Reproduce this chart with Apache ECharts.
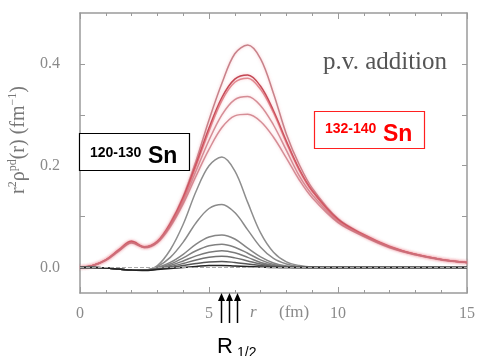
<!DOCTYPE html>
<html>
<head>
<meta charset="utf-8">
<script src="https://cdn.jsdelivr.net/npm/echarts@6/dist/echarts.min.js"></script>
<style>
  html, body { margin: 0; padding: 0; background: #fff; }
  #chart { width: 478px; height: 356px; }
</style>
</head>
<body>
<div id="chart"></div>
<script>
// radial grid (fm)
const radius = [0, 0.5, 1, 1.5, 2, 2.5, 3, 3.5, 4, 4.5, 5, 5.5, 6, 6.5, 7, 7.5, 8, 8.5, 9, 10, 11, 12, 13, 14, 15];

// r^2 rho_pd(r) for 132-140Sn
const heavy1 = [0, 0.004, 0.015, 0.035, 0.052, 0.041, 0.052, 0.088, 0.140, 0.210, 0.290, 0.362, 0.420, 0.437, 0.410, 0.342, 0.262, 0.202, 0.156, 0.096, 0.065, 0.042, 0.026, 0.016, 0.010];
const heavy2 = [0, 0.004, 0.015, 0.034, 0.051, 0.040, 0.051, 0.086, 0.137, 0.203, 0.274, 0.334, 0.370, 0.378, 0.356, 0.308, 0.248, 0.193, 0.151, 0.094, 0.064, 0.041, 0.026, 0.016, 0.010];
const heavy3 = [0, 0.004, 0.015, 0.034, 0.050, 0.040, 0.051, 0.085, 0.135, 0.200, 0.268, 0.328, 0.364, 0.372, 0.350, 0.304, 0.245, 0.191, 0.150, 0.093, 0.064, 0.041, 0.026, 0.016, 0.010];
const heavy4 = [0, 0.004, 0.014, 0.033, 0.049, 0.040, 0.050, 0.083, 0.130, 0.190, 0.250, 0.300, 0.330, 0.336, 0.318, 0.280, 0.230, 0.180, 0.143, 0.090, 0.062, 0.040, 0.025, 0.016, 0.010];
const heavy5 = [0, 0.004, 0.014, 0.032, 0.048, 0.039, 0.049, 0.080, 0.125, 0.180, 0.232, 0.275, 0.298, 0.301, 0.287, 0.256, 0.215, 0.172, 0.137, 0.088, 0.061, 0.039, 0.025, 0.015, 0.010];

// r^2 rho_pd(r) for 120-130Sn
const light1 = [0, 0, -0.001, -0.003, -0.005, -0.005, 0.004, 0.035, 0.085, 0.150, 0.200, 0.217, 0.190, 0.128, 0.068, 0.030, 0.011, 0.004, 0.001, 0, 0, 0, 0, 0, 0];
const light2 = [0, 0, -0.001, -0.003, -0.005, -0.005, 0.002, 0.020, 0.050, 0.088, 0.116, 0.124, 0.108, 0.074, 0.040, 0.018, 0.007, 0.002, 0.001, 0, 0, 0, 0, 0, 0];
const light3 = [0, 0, -0.001, -0.003, -0.005, -0.005, 0.000, 0.010, 0.026, 0.046, 0.060, 0.064, 0.056, 0.038, 0.021, 0.009, 0.003, 0.001, 0, 0, 0, 0, 0, 0, 0];
const light4 = [0, 0, -0.001, -0.003, -0.005, -0.005, -0.001, 0.007, 0.019, 0.033, 0.043, 0.046, 0.040, 0.028, 0.015, 0.006, 0.002, 0.001, 0, 0, 0, 0, 0, 0, 0];
const light5 = [0, 0, -0.001, -0.003, -0.005, -0.005, -0.002, 0.004, 0.013, 0.023, 0.030, 0.033, 0.029, 0.020, 0.010, 0.004, 0.001, 0, 0, 0, 0, 0, 0, 0, 0];
const light6 = [0, 0, -0.001, -0.003, -0.005, -0.005, -0.002, 0.002, 0.008, 0.015, 0.020, 0.022, 0.019, 0.013, 0.007, 0.003, 0.001, 0, 0, 0, 0, 0, 0, 0, 0];
const light7 = [0, 0, -0.001, -0.003, -0.005, -0.005, -0.003, 0.000, 0.004, 0.008, 0.011, 0.012, 0.010, 0.007, 0.004, 0.001, 0, 0, 0, 0, 0, 0, 0, 0, 0];
const light8 = [0, 0, -0.001, -0.003, -0.005, -0.006, -0.004, -0.002, 0.000, 0.002, 0.004, 0.004, 0.003, 0.002, 0.001, 0, 0, 0, 0, 0, 0, 0, 0, 0, 0];

// half-density radii marked under the axis
const rHalf = [5.45, 5.76, 6.07];

// tick labels
const xTickLabels = [0, 5, 10, 15];
const yTickLabels = [0, 0.2, 0.4];
const yTickMarks = [0, 0.1, 0.2, 0.3, 0.4];

const heavySets = [
  { values: heavy1, color: 'rgba(190,110,120,0.85)' },
  { values: heavy2, color: 'rgba(185,40,55,0.85)' },
  { values: heavy3, color: 'rgba(215,95,105,0.7)' },
  { values: heavy4, color: 'rgba(200,110,120,0.75)' },
  { values: heavy5, color: 'rgba(200,110,120,0.75)' }
];
const lightSets = [
  { values: light1, color: '#8e8e8e' },
  { values: light2, color: '#8a8a8a' },
  { values: light3, color: '#858585' },
  { values: light4, color: '#808080' },
  { values: light5, color: '#7a7a7a' },
  { values: light6, color: '#707070' },
  { values: light7, color: '#555555' },
  { values: light8, color: '#222222' }
];

const toPoints = vals => radius.map((r, i) => [r, vals[i]]);

const series = [];
heavySets.forEach((s, k) => {
  series.push({
    type: 'line', name: 'heavy' + k, data: toPoints(s.values),
    smooth: 0.35, showSymbol: false, silent: true, z: 2,
    lineStyle: { color: s.color, width: 1.5, shadowColor: 'rgba(240,140,150,0.6)', shadowBlur: 3 }
  });
});
lightSets.forEach((s, k) => {
  const item = {
    type: 'line', name: 'light' + k, data: toPoints(s.values),
    smooth: 0.35, showSymbol: false, silent: true, z: 3,
    lineStyle: { color: s.color, width: 1.5 }
  };
  if (k === 0) {
    item.markLine = {
      silent: true, symbol: 'none', label: { show: false },
      lineStyle: { color: '#aaa', type: 'dashed', width: 1 },
      data: [{ yAxis: 0 }]
    };
  }
  series.push(item);
});

const serif = '"Liberation Serif", "DejaVu Serif", serif';
const axisGray = '#9a9a9a';

const xAxisBase = {
  type: 'value', min: 0, max: 15, interval: 5,
  axisLine: { onZero: false, lineStyle: { color: axisGray, width: 1.5 } },
  axisTick: { inside: true, length: 6, lineStyle: { color: axisGray } },
  minorTick: { show: true, splitNumber: 5, length: 3, lineStyle: { color: axisGray } },
  splitLine: { show: false }
};
const yAxisBase = {
  type: 'value', min: -0.05, max: 0.5, interval: 0.05,
  axisLine: { onZero: false, lineStyle: { color: axisGray, width: 1.5 } },
  axisTick: { inside: true, length: 5, customValues: yTickMarks, lineStyle: { color: axisGray } },
  splitLine: { show: false }
};

const chart = echarts.init(document.getElementById('chart'), null, { renderer: 'canvas' });
chart.setOption({
  animation: false,
  backgroundColor: '#fff',
  grid: { left: 80, right: 4, top: 13, bottom: 63 },
  xAxis: [
    Object.assign({}, xAxisBase, {
      position: 'bottom',
      axisLabel: {
        customValues: xTickLabels, color: '#8a8a8a', fontFamily: serif, fontSize: 16, margin: 13,
        formatter: v => String(v)
      }
    }),
    Object.assign({}, xAxisBase, { position: 'top', axisLabel: { show: false } })
  ],
  yAxis: [
    Object.assign({}, yAxisBase, {
      position: 'left',
      axisLabel: {
        customValues: yTickLabels, color: '#8a8a8a', fontFamily: serif, fontSize: 16, margin: 20,
        formatter: v => v.toFixed(1)
      }
    }),
    Object.assign({}, yAxisBase, { position: 'right', axisLabel: { show: false } })
  ],
  series: series
});

// annotations: labels, boxes, R_1/2 arrows
const graphics = [];
const sans = 'Arial, "Liberation Sans", sans-serif';

// axis titles
graphics.push({
  type: 'text', x: 18, y: 140, rotation: Math.PI / 2,
  style: {
    text: '{a|r}{s|2}{a|ρ}{s|pd}{a|(r) (fm}{s|−1}{a|)}',
    align: 'center', verticalAlign: 'middle',
    rich: {
      a: { fontFamily: serif, fontSize: 20, fill: '#777', lineHeight: 22, verticalAlign: 'bottom' },
      s: { fontFamily: serif, fontSize: 12, fill: '#777', lineHeight: 22, verticalAlign: 'top' }
    }
  }
});
graphics.push({
  type: 'text', x: 250, y: 313,
  style: { text: 'r', font: 'italic 17px ' + serif, fill: '#8a8a8a', verticalAlign: 'middle' }
});
graphics.push({
  type: 'text', x: 279, y: 313,
  style: { text: '(fm)', font: '17px ' + serif, fill: '#8a8a8a', verticalAlign: 'middle' }
});
graphics.push({
  type: 'text', x: 323, y: 62,
  style: { text: 'p.v. addition', font: '25px ' + serif, fill: '#555', verticalAlign: 'middle' }
});

// 120-130Sn box
graphics.push({
  type: 'rect', shape: { x: 79.5, y: 133.5, width: 110, height: 37 },
  style: { fill: '#fff', stroke: '#000', lineWidth: 1.2 }, z: 10
});
graphics.push({
  type: 'text', x: 90, y: 160, z: 11,
  style: { text: '120-130', font: 'bold 14px ' + sans, fill: '#000', verticalAlign: 'bottom' }
});
graphics.push({
  type: 'text', x: 148, y: 168, z: 11,
  style: { text: 'Sn', font: 'bold 23px ' + sans, fill: '#000', verticalAlign: 'bottom' }
});

// 132-140Sn box
graphics.push({
  type: 'rect', shape: { x: 314.5, y: 111.5, width: 110, height: 37 },
  style: { fill: '#fff', stroke: '#ff2020', lineWidth: 1.2 }, z: 10
});
graphics.push({
  type: 'text', x: 325, y: 136, z: 11,
  style: { text: '132-140', font: 'bold 14px ' + sans, fill: '#ff0000', verticalAlign: 'bottom' }
});
graphics.push({
  type: 'text', x: 383, y: 146, z: 11,
  style: { text: 'Sn', font: 'bold 23px ' + sans, fill: '#ff0000', verticalAlign: 'bottom' }
});

// R_1/2 arrows below the r axis
rHalf.forEach(r => {
  const p = chart.convertToPixel({ xAxisIndex: 0, yAxisIndex: 0 }, [r, -0.05]);
  const x = Math.round(p[0]) + 0.5;
  const tip = p[1];
  graphics.push({
    type: 'line', shape: { x1: x, y1: tip + 6, x2: x, y2: tip + 30 },
    style: { stroke: '#000', lineWidth: 1.5 }, z: 12
  });
  graphics.push({
    type: 'polygon', shape: { points: [[x, tip], [x - 3.5, tip + 8], [x + 3.5, tip + 8]] },
    style: { fill: '#000' }, z: 12
  });
});
graphics.push({
  type: 'text', x: 217, y: 358, z: 12,
  style: { text: 'R', font: '22px ' + sans, fill: '#000', verticalAlign: 'bottom' }
});
graphics.push({
  type: 'text', x: 237, y: 360, z: 12,
  style: { text: '1/2', font: '14px ' + sans, fill: '#000', verticalAlign: 'bottom' }
});

chart.setOption({ graphic: graphics });
</script>
</body>
</html>
